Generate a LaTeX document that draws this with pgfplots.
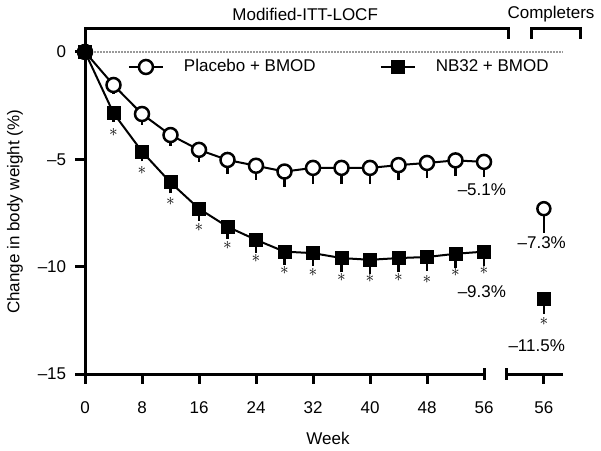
\documentclass[border=0pt]{standalone}
\usepackage{pgfplots}
\pgfplotsset{compat=1.18}
\usepackage{fontspec}
\setmainfont{Liberation Sans}
\begin{document}
\fontsize{17}{20}\selectfont
\begin{tikzpicture}
\begin{axis}[
  x=7.125pt, y=21.47pt,
  xmin=0, xmax=70, ymin=-15, ymax=1.07,
  clip=false,
  axis line style={draw=none},
  xtick pos=bottom, ytick pos=left,
  tick align=outside,
  major tick length=0pt,
  xtick={0,8,16,24,32,40,48,56,64.4},
  xticklabels={0,8,16,24,32,40,48,56,56},
  ytick={-15,-10,-5,0},
  yticklabels={–15,–10,–5,0},
  tick label style={font=\fontsize{17}{20}\selectfont},
  xticklabel style={yshift=-22pt},
  yticklabel style={xshift=-13pt},
  legend style={at={(axis cs:6,-0.7)}, anchor=west, draw=none, fill=none, inner sep=0pt,
    font=\fontsize{17}{20}\selectfont,
    /tikz/every odd column/.append style={column sep=18pt},
    /tikz/every even column/.append style={column sep=62pt}},
  legend columns=2,
  legend image code/.code={\draw[mark repeat=2,mark phase=2,#1] plot coordinates {(0pt,0pt) (17pt,0pt) (34pt,0pt)};},
]
% dotted zero line
\draw[gray!80, dash pattern=on 1.5pt off 1.5pt, line width=1.2pt] (axis cs:0,0) -- (axis cs:67.1,0);
% y axis + top bracket
\draw[line width=3pt, line join=miter] (axis cs:59.5,0.62) -- (axis cs:59.5,1.07) -- (axis cs:0,1.07) -- (axis cs:0,-15);
\draw[line width=3pt, line join=miter] (axis cs:62.6,0.62) -- (axis cs:62.6,1.07) -- (axis cs:69.6,1.07) -- (axis cs:69.6,0.62);
% x axis segments
\draw[line width=3pt] (axis cs:0,-15) -- (axis cs:56,-15);
\draw[line width=3pt] (axis cs:56,-14.72) -- (axis cs:56,-15.28);
\draw[line width=3pt] (axis cs:59.2,-15) -- (axis cs:67.1,-15);
\draw[line width=3pt] (axis cs:59.2,-14.72) -- (axis cs:59.2,-15.28);
% ticks (filled bars)
\pgfplotsinvokeforeach{0,8,16,24,32,40,48,64.4}{
  \node[fill=black, inner sep=0pt, outer sep=0pt, minimum width=3pt, minimum height=11pt, anchor=north] at (axis cs:#1,-14.95) {};
}
\pgfplotsinvokeforeach{-15,-10,-5,0}{
  \node[fill=black, inner sep=0pt, outer sep=0pt, minimum width=11pt, minimum height=3pt, anchor=east] at (axis cs:0.1,#1) {};
}

\addplot[black, line width=2pt, mark=*, mark size=7pt,
  mark options={fill=white, line width=2.5pt},
  error bars/.cd, y dir=minus, y explicit,
  error bar style={line width=2pt}, error mark options={mark size=4.5pt, line width=2.5pt}]
table[x=w, y=v, y error=e] {
w v e
0 0 0
4 -1.54 0.2
8 -2.89 0.3
12 -3.87 0.3
16 -4.56 0.35
20 -5.03 0.45
24 -5.30 0.45
28 -5.57 0.5
32 -5.40 0.55
36 -5.40 0.55
40 -5.40 0.55
44 -5.27 0.5
48 -5.17 0.5
52 -5.05 0.5
56 -5.12 0.5
};
\addlegendentry{Placebo + BMOD}

\addplot[black, line width=2pt, mark=square*, mark size=6.5pt,
  mark options={fill=black, line width=1pt},
  error bars/.cd, y dir=minus, y explicit,
  error bar style={line width=2pt}, error mark options={mark size=4.5pt, line width=2.5pt}]
table[x=w, y=v, y error=e] {
w v e
0 0 0
4 -2.85 0.2
8 -4.64 0.25
12 -6.08 0.3
16 -7.30 0.35
20 -8.14 0.35
24 -8.75 0.4
28 -9.30 0.4
32 -9.37 0.4
36 -9.60 0.45
40 -9.68 0.45
44 -9.60 0.45
48 -9.55 0.45
52 -9.40 0.45
56 -9.30 0.45
};
\addlegendentry{NB32 + BMOD}

% completers
\addplot[forget plot, only marks, black, mark=*, mark size=6.5pt,
  mark options={fill=white, line width=2.5pt},
  error bars/.cd, y dir=minus, y explicit,
  error bar style={line width=2pt}, error mark options={mark size=4.5pt, line width=2.5pt}]
table[x=w, y=v, y error=e] {
w v e
64.4 -7.3 0.9
};
\addplot[forget plot, only marks, black, mark=square*, mark size=6.5pt,
  mark options={fill=black, line width=1pt},
  error bars/.cd, y dir=minus, y explicit,
  error bar style={line width=2pt}, error mark options={mark size=4.5pt, line width=2.5pt}]
table[x=w, y=v, y error=e] {
w v e
64.4 -11.5 0.5
};

% asterisks
\addplot[forget plot, only marks, mark=none, nodes near coords={$\ast$},
  every node near coord/.style={anchor=center, yshift=-19pt, font=\fontsize{16}{16}\selectfont}]
table {
4 -2.85
8 -4.64
12 -6.08
16 -7.30
20 -8.14
24 -8.75
28 -9.30
32 -9.37
36 -9.60
40 -9.68
44 -9.60
48 -9.70
52 -9.40
56 -9.30
};
\addplot[forget plot, only marks, mark=none, nodes near coords={$\ast$},
  every node near coord/.style={anchor=center, yshift=-23pt, font=\fontsize{16}{16}\selectfont}]
table {
64.4 -11.5
};

\node at (axis cs:30.9,1.77) {Modified-ITT-LOCF};
\node at (axis cs:65.4,1.77) {Completers};
\node at (axis cs:55.7,-6.43) {–5.1\%};
\node at (axis cs:55.7,-11.18) {–9.3\%};
\node at (axis cs:64.1,-8.9) {–7.3\%};
\node at (axis cs:63.4,-13.7) {–11.5\%};
\node[rotate=90] at (axis cs:-9.82,-7.45) {Change in body weight (\%)};
\node at (axis cs:34.1,-17.98) {Week};

\coordinate (bl) at (axis cs:-11.93,-18.54);
\coordinate (tr) at (axis cs:72.42,2.42);
\end{axis}
\pgfresetboundingbox
\path[use as bounding box] (bl) rectangle (tr);
\end{tikzpicture}
\end{document}
